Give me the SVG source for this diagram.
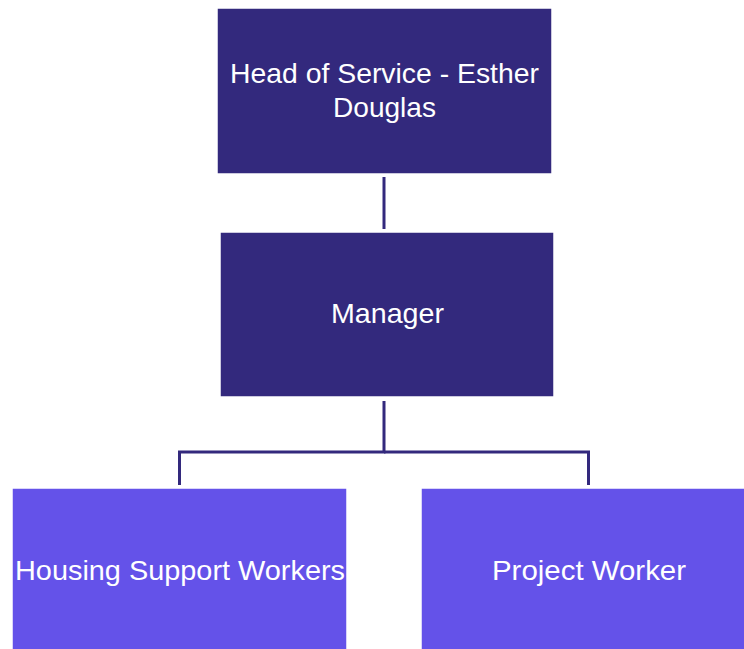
<svg xmlns="http://www.w3.org/2000/svg" width="744" height="649" viewBox="0 0 744 649">
<style>
.dark{fill:#33297D;stroke:#ffffff;stroke-width:1.5}
.light{fill:#6452E9;stroke:#ffffff;stroke-width:1.5}
.lbl{font-family:"Liberation Sans",Arial,sans-serif;font-size:28.5px;fill:#ffffff;text-anchor:middle}
.conn{fill:none;stroke:#33297D;stroke-width:3}
</style>
<rect width="744" height="649" fill="#ffffff"/>
<g id="connectors">
<line class="conn" x1="384" y1="177" x2="384" y2="229"/>
<polyline class="conn" points="384,401 384,452 179.5,452 179.5,485"/>
<polyline class="conn" points="384,452 588.5,452 588.5,485"/>
</g>
<g id="head">
<rect class="dark" x="217" y="8" width="335" height="166"/>
<text class="lbl" x="384.5" y="83" textLength="309" lengthAdjust="spacingAndGlyphs">Head of Service - Esther</text>
<text class="lbl" x="384.5" y="117" textLength="103" lengthAdjust="spacingAndGlyphs">Douglas</text>
</g>
<g id="manager">
<rect class="dark" x="220" y="232" width="334" height="165"/>
<text class="lbl" x="387.5" y="323" textLength="113" lengthAdjust="spacingAndGlyphs">Manager</text>
</g>
<g id="housing">
<rect class="light" x="12" y="488" width="335" height="166"/>
<text class="lbl" x="180" y="580" textLength="330" lengthAdjust="spacingAndGlyphs">Housing Support Workers</text>
</g>
<g id="project">
<rect class="light" x="421" y="488" width="335" height="166"/>
<text class="lbl" x="589" y="580" textLength="194" lengthAdjust="spacingAndGlyphs">Project Worker</text>
</g>
</svg>
